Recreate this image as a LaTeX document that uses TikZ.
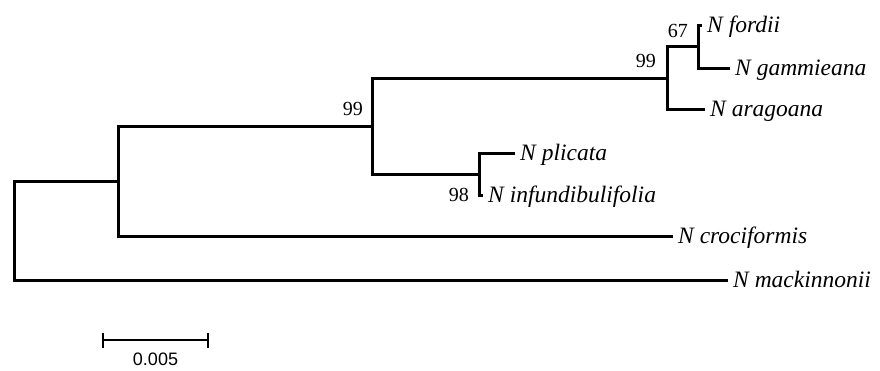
\documentclass[tikz,border=0pt]{standalone}
\usepackage{fontspec}
\setmainfont{Liberation Serif}
\newfontfamily\barfont{Liberation Sans}
\begin{document}
\begin{tikzpicture}[x=1pt,y=-1pt,
  branch/.style={line width=3pt, line join=miter, line cap=butt, black},
  sbar/.style={line width=2pt, black},
  tip/.style={anchor=base west, inner sep=0pt, xshift=5pt, yshift=-7.5pt,
              font=\fontsize{23.5}{26}\selectfont\itshape},
  boot/.style={anchor=east, inner sep=0pt, font=\fontsize{20}{22}\selectfont}]
\useasboundingbox (0,0) rectangle (880,370);
% internal nodes
\coordinate (R) at (14,231);
\coordinate (A) at (118,181);
\coordinate (B) at (372,126);
\coordinate (C) at (667,78.5);
\coordinate (E) at (698,46.5);
\coordinate (D) at (479,174);
% tips
\coordinate (ford) at (702,25);
\coordinate (gamm) at (730,68);
\coordinate (arag) at (705,109);
\coordinate (plic) at (515,153);
\coordinate (inf)  at (483,195);
\coordinate (cro)  at (673,236);
\coordinate (mack) at (728,280);
% branches
\draw[branch] (A) -| (R) |- (mack);
\draw[branch] (B) -| (A) |- (cro);
\draw[branch] (C) -| (B) |- (D);
\draw[branch] (E) -| (C) |- (arag);
\draw[branch] (ford) -| (E) |- (gamm);
\draw[branch] (plic) -| (D) |- (inf);
% tip labels
\node[tip] (lford) at (ford) {N fordii};
\node[tip] (lgamm) at (gamm) {N gammieana};
\node[tip] (larag) at (arag) {N aragoana};
\node[tip] (lplic) at (plic) {N plicata};
\node[tip] (linf)  at (inf)  {N infundibulifolia};
\node[tip] (lcro)  at (cro)  {N crociformis};
\node[tip] (lmack) at (mack) {N mackinnonii};
% bootstrap values
\node[boot] (bB) at (363,109) {99};
\node[boot] (bC) at (656,61) {99};
\node[boot] (bE) at (688,31) {67};
\node[boot] (bD) at (469,195) {98};
% scale bar
\coordinate (s1) at (103,340);
\coordinate (s2) at (208,340);
\draw[sbar] (s1) -- (s2);
\draw[sbar] ([yshift=7.5pt]s1) -- ([yshift=-7.5pt]s1);
\draw[sbar] ([yshift=7.5pt]s2) -- ([yshift=-7.5pt]s2);
\node[inner sep=0pt, font=\barfont\fontsize{18}{20}\selectfont] (slab) at (155.5,359.5) {0.005};
\end{tikzpicture}
\end{document}
